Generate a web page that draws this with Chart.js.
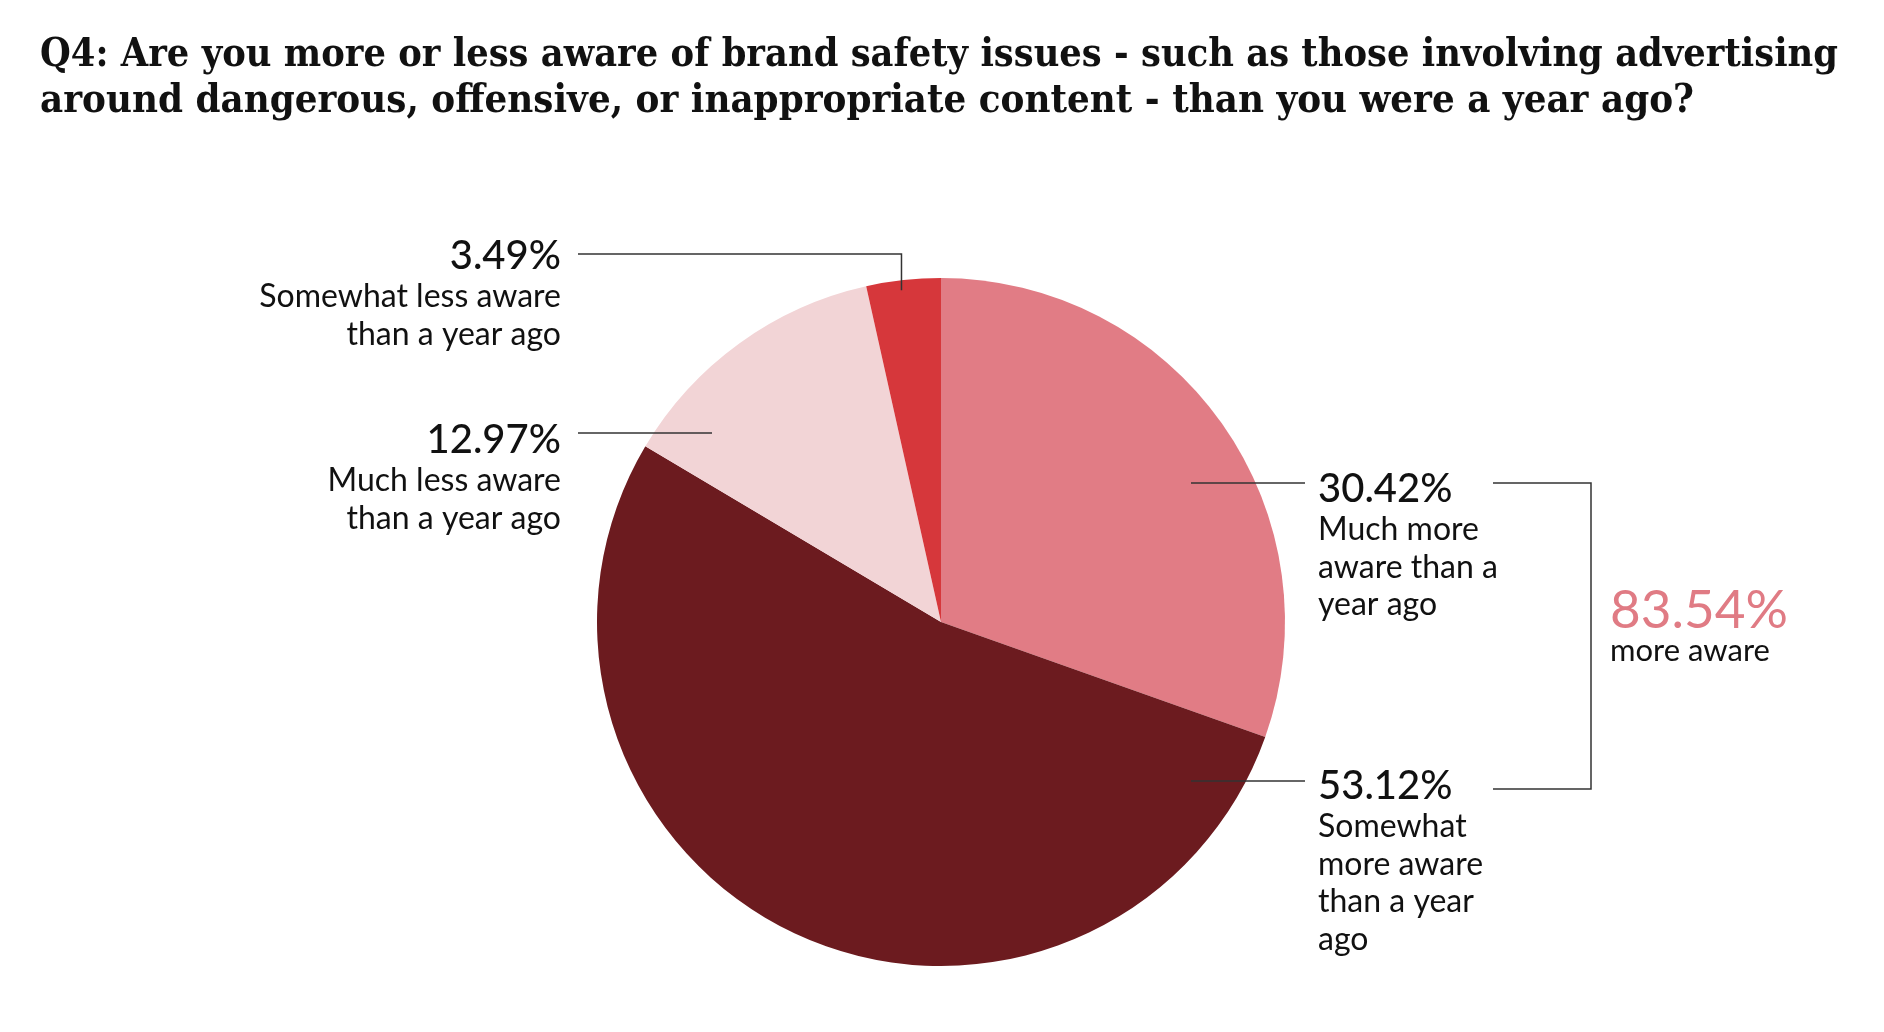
<!DOCTYPE html>
<html>
<head>
<meta charset="utf-8">
<script src="https://cdn.jsdelivr.net/npm/chart.js@4.4.1/dist/chart.umd.min.js"></script>
<style>
  html, body { margin: 0; padding: 0; background: #fff; }
  #wrap { width: 1884px; height: 1032px; }
</style>
</head>
<body>
<div id="wrap"><canvas id="pieChart" width="1884" height="1032"></canvas></div>
<script>
var titleLines = [
    'Q4: Are you more or less aware of brand safety issues - such as those involving advertising',
    'around dangerous, offensive, or inappropriate content - than you were a year ago?'
];
var categories = [
    'Much more aware than a year ago',
    'Somewhat more aware than a year ago',
    'Much less aware than a year ago',
    'Somewhat less aware than a year ago'
];
var shares = [30.42, 53.12, 12.97, 3.49];
var sliceColors = ['#e17c85', '#6c1b1f', '#f2d4d6', '#d6373b'];
// label text as wrapped in the picture
var labelLines = [
    ['Much more', 'aware than a', 'year ago'],
    ['Somewhat', 'more aware', 'than a year', 'ago'],
    ['Much less aware', 'than a year ago'],
    ['Somewhat less aware', 'than a year ago']
];
var groupLabel = 'more aware';

function pct(v) {
    return v.toFixed(2) + '%';
}

// where each callout sits (x,y = text anchor; line = leader)
var callouts = [
    { align: 'left',  x: 1318, y: 502, lineY: 483, from: 250, to: 364 },
    { align: 'left',  x: 1318, y: 799, lineY: 781, from: 250, to: 364 },
    { align: 'right', x: 561,  y: 453, lineY: 433, from: -363, to: -229 },
    { align: 'right', x: 561,  y: 269, lineY: 254, from: -363, elbow: true }
];
var titleWidths = [1798, 1654];

var calloutPlugin = {
    id: 'callouts',
    afterDraw: function (chart) {
        var ctx = chart.ctx;
        var arcs = chart.getDatasetMeta(0).data;
        var cx = arcs[0].x, cy = arcs[0].y, r = arcs[0].outerRadius;

        // title
        ctx.save();
        ctx.fillStyle = '#111';
        ctx.textBaseline = 'alphabetic';
        ctx.textAlign = 'left';
        ctx.font = 'bold 39px "DejaVu Serif"';
        titleLines.forEach(function (t, i) {
            var k = titleWidths[i] / ctx.measureText(t).width;
            ctx.save();
            ctx.translate(40, 66 + i * 46);
            ctx.scale(k, 1);
            ctx.fillText(t, 0, 0);
            ctx.restore();
        });
        ctx.restore();

        // leaders
        ctx.save();
        ctx.strokeStyle = '#333';
        ctx.lineWidth = 1.5;
        callouts.forEach(function (c, i) {
            ctx.beginPath();
            if (c.elbow) {
                var a = arcs[i];
                var mid = (a.startAngle + a.endAngle) / 2;
                var px = cx + Math.cos(mid) * r * 0.97 - 3;
                var py = cy + Math.sin(mid) * r * 0.97;
                ctx.moveTo(cx + c.from, c.lineY);
                ctx.lineTo(px, c.lineY);
                ctx.lineTo(px, py);
            } else {
                ctx.moveTo(cx + c.from, c.lineY);
                ctx.lineTo(cx + c.to, c.lineY);
            }
            ctx.stroke();
        });
        // bracket round the two "more aware" slices
        ctx.beginPath();
        ctx.moveTo(1493, callouts[0].lineY);
        ctx.lineTo(1591, callouts[0].lineY);
        ctx.lineTo(1591, 789);
        ctx.lineTo(1493, 789);
        ctx.stroke();
        ctx.restore();

        // texts
        ctx.save();
        ctx.fillStyle = '#111';
        ctx.textBaseline = 'alphabetic';
        callouts.forEach(function (c, i) {
            ctx.textAlign = c.align;
            ctx.font = '500 40px Lato';
            ctx.fillText(pct(shares[i]), c.x, c.y);
            ctx.font = '32px Lato';
            labelLines[i].forEach(function (t, j) {
                ctx.fillText(t, c.x, c.y + 38 + j * 37.5);
            });
        });
        ctx.textAlign = 'left';
        ctx.fillStyle = '#e07b84';
        ctx.font = '53px Lato';
        ctx.fillText(pct(shares[0] + shares[1]), 1610, 628);
        ctx.fillStyle = '#111';
        ctx.font = '31px Lato';
        ctx.fillText(groupLabel, 1610, 661);
        ctx.restore();
    }
};

function loadChart() {
    var pieCanvas = document.getElementById('pieChart').getContext('2d');
    var pieChart = new Chart(pieCanvas, {
        type: 'pie',
        data: {
            labels: categories,
            datasets: [
                {
                    data: shares,
                    backgroundColor: sliceColors,
                    borderWidth: 0
                }
            ]
        },
        options: {
            responsive: false,
            animation: false,
            devicePixelRatio: 1,
            layout: {
                padding: { left: 597, right: 599, top: 277, bottom: 65 }
            },
            plugins: {
                legend: { display: false },
                title: { display: false },
                tooltip: { enabled: false }
            }
        },
        plugins: [calloutPlugin]
    });
}

loadChart();
</script>
</body>
</html>
